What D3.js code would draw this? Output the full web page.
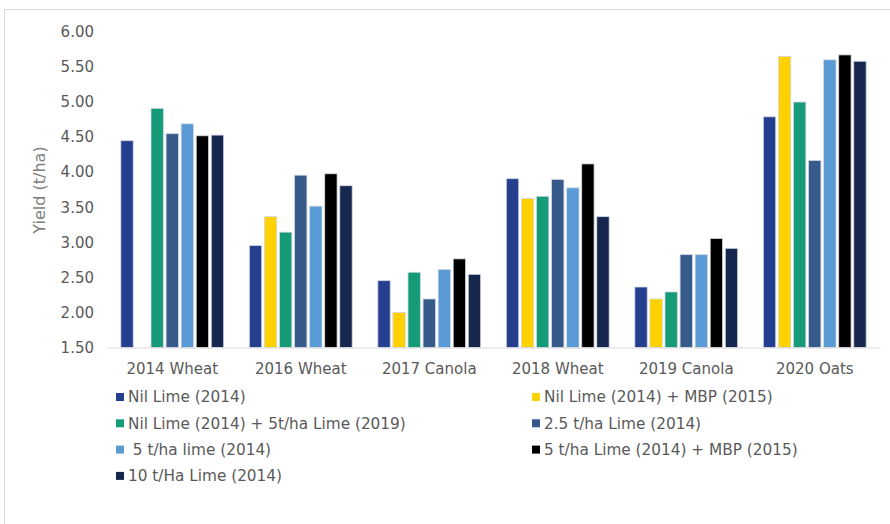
<!DOCTYPE html>
<html>
<head>
<meta charset="utf-8">
<script src="https://cdn.jsdelivr.net/npm/d3@7"></script>
<style>
  html, body { margin: 0; padding: 0; background: #fff; }
  svg { display: block; font-family: "DejaVu Sans", sans-serif; }
</style>
</head>
<body>
<svg id="chart" width="890" height="524"></svg>
<script>
const categories = ["2014 Wheat", "2016 Wheat", "2017 Canola", "2018 Wheat", "2019 Canola", "2020 Oats"];
const seriesNames = [
  "Nil Lime (2014)",
  "Nil Lime (2014) + MBP (2015)",
  "Nil Lime (2014) + 5t/ha Lime (2019)",
  "2.5 t/ha Lime (2014)",
  " 5 t/ha lime (2014)",
  "5 t/ha Lime (2014) + MBP (2015)",
  "10 t/Ha Lime (2014)"
];
const seriesColors = ["#253F8E", "#FFD100", "#169B78", "#365B8B", "#5B9BD5", "#000000", "#16264F"];
const nilLime       = [4.44, 2.95, 2.45, 3.90, 2.36, 4.78];
const nilLimeMBP    = [null, 3.36, 2.00, 3.62, 2.19, 5.64];
const nilLime5t2019 = [4.90, 3.14, 2.57, 3.65, 2.29, 4.99];
const lime2_5t      = [4.54, 3.95, 2.19, 3.89, 2.82, 4.16];
const lime5t        = [4.68, 3.51, 2.61, 3.77, 2.82, 5.59];
const lime5tMBP     = [4.51, 3.97, 2.76, 4.11, 3.05, 5.66];
const lime10t       = [4.52, 3.80, 2.54, 3.36, 2.91, 5.57];
const seriesValues = [nilLime, nilLimeMBP, nilLime5t2019, lime2_5t, lime5t, lime5tMBP, lime10t];
const yTicks = [1.5, 2.0, 2.5, 3.0, 3.5, 4.0, 4.5, 5.0, 5.5, 6.0];
const yLabel = "Yield (t/ha)";

const svg = d3.select("#chart");
const textColor = "#595959";

// outer chart border
svg.append("rect").attr("x", 4.5).attr("y", 9.5).attr("width", 900).attr("height", 600)
  .attr("fill", "none").attr("stroke", "#d9d9d9").attr("stroke-width", 1);

const plot = { left: 108, right: 879, top: 31, bottom: 347.5 };

const x0 = d3.scaleBand().domain(categories).range([plot.left, plot.right])
  .paddingInner(0.2).paddingOuter(0.1);
const x1 = d3.scaleBand().domain(d3.range(seriesNames.length)).range([0, x0.bandwidth()])
  .paddingInner(0.18);
const y = d3.scaleLinear().domain([1.5, 6.0]).range([plot.bottom, plot.top]);

// y axis (labels only)
const yAxis = d3.axisLeft(y).tickValues(yTicks).tickFormat(d3.format(".2f")).tickSize(0).tickPadding(14);
const gy = svg.append("g").attr("transform", `translate(${plot.left},0)`).call(yAxis);
gy.select(".domain").remove();
gy.selectAll("text").attr("fill", textColor).style("font-size", "15px")
  .style("font-family", "DejaVu Sans, sans-serif").attr("dy", "0.35em");

// bars
const groups = svg.append("g").selectAll("g").data(categories).join("g")
  .attr("transform", d => `translate(${x0(d)},0)`);
groups.selectAll("rect")
  .data((c, ci) => seriesValues.map((vals, si) => ({ si, v: vals[ci] })).filter(d => d.v != null))
  .join("rect")
  .attr("x", d => x1(d.si))
  .attr("width", x1.bandwidth())
  .attr("y", d => y(d.v))
  .attr("height", d => y(1.5) - y(d.v))
  .attr("fill", d => seriesColors[d.si])
  .attr("stroke", "#d0d6e4").attr("stroke-width", 0.8);

// x axis
const xAxis = d3.axisBottom(x0).tickSize(0).tickPadding(16);
const gx = svg.append("g").attr("transform", `translate(0,${plot.bottom})`).call(xAxis);
gx.select(".domain").attr("stroke", "#d9d9d9").attr("stroke-width", 1.2);
gx.selectAll("text").attr("fill", textColor).style("font-size", "15px")
  .style("font-family", "DejaVu Sans, sans-serif");

// y label
svg.append("text").attr("transform", "translate(45,190) rotate(-90)")
  .attr("text-anchor", "middle").attr("fill", "#7f7f7f")
  .style("font-size", "16px").text(yLabel);

// legend
const legCols = [116, 532];
const legRow0 = 397, legRowStep = 26.3;
const leg = svg.append("g").selectAll("g").data(seriesNames).join("g")
  .attr("transform", (d, i) => `translate(${legCols[i % 2]},${legRow0 + Math.floor(i / 2) * legRowStep})`);
leg.append("rect").attr("x", 0).attr("y", -4).attr("width", 8).attr("height", 8)
  .attr("fill", (d, i) => seriesColors[i]);
leg.append("text").attr("x", 12).attr("y", 0).attr("dy", "0.35em")
  .attr("fill", textColor).style("font-size", "15.3px").style("white-space", "pre")
  .attr("xml:space", "preserve").text(d => d);
</script>
</body>
</html>
